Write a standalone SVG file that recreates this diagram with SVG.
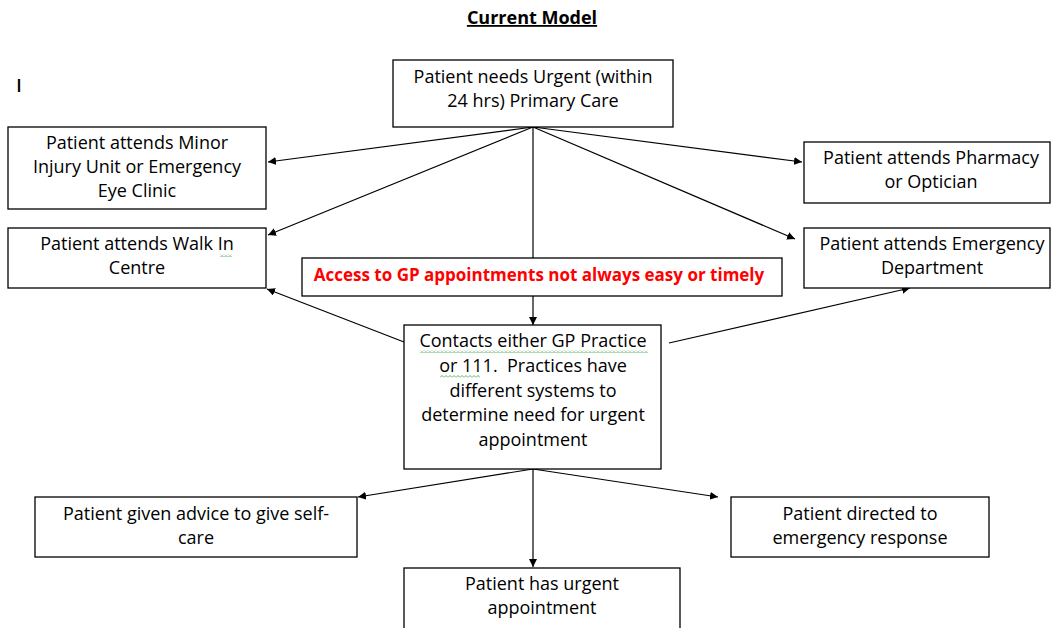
<svg xmlns="http://www.w3.org/2000/svg" width="1051" height="628" viewBox="0 0 1051 628">
<style>
text{font-family:"Open Sans",Lato,sans-serif;font-size:18px;fill:#000;text-anchor:middle}
.box{fill:#fff;stroke:#000;stroke-width:1.3}
.c line{stroke:#000;stroke-width:1.2}
.red{fill:#ff0000;font-weight:bold;font-size:17px}
</style>
<defs>
<marker id="a" viewBox="0 0 10 10" refX="10" refY="5" markerWidth="8" markerHeight="8" orient="auto" markerUnits="userSpaceOnUse"><path d="M0,0L10,5L0,10z" fill="#000"/></marker>
<pattern id="zz" x="0" y="0" width="4" height="3" patternUnits="userSpaceOnUse"><path d="M0,2.5L2,0.5L4,2.5" fill="none" stroke="#4caf50" stroke-width="0.9"/></pattern>
</defs>
<rect width="1051" height="628" fill="#fff"/>
<text x="532" y="24" font-weight="bold" text-decoration="underline" font-size="17">Current Model</text>
<text x="19" y="92" font-size="22" font-weight="600">I</text>
<g class="c">
<line x1="533" y1="127" x2="268" y2="162" marker-end="url(#a)"/>
<line x1="533" y1="127" x2="268" y2="235" marker-end="url(#a)"/>
<line x1="533" y1="127" x2="533" y2="258"/>
<line x1="533" y1="127" x2="802" y2="162" marker-end="url(#a)"/>
<line x1="533" y1="127" x2="795" y2="239" marker-end="url(#a)"/>
<line x1="533" y1="296" x2="533" y2="325" marker-end="url(#a)"/>
<line x1="404" y1="342" x2="267" y2="289" marker-end="url(#a)"/>
<line x1="669" y1="343" x2="910" y2="288" marker-end="url(#a)"/>
<line x1="533" y1="469" x2="358" y2="497" marker-end="url(#a)"/>
<line x1="533" y1="469" x2="533" y2="567" marker-end="url(#a)"/>
<line x1="533" y1="469" x2="718" y2="497" marker-end="url(#a)"/>
</g>
<g id="top"><rect class="box" x="393" y="60" width="280" height="67"/><text x="533" y="83">Patient needs Urgent (within</text><text x="533" y="107">24 hrs) Primary Care</text></g>
<g id="minor"><rect class="box" x="8" y="127" width="258" height="82"/><text x="137" y="149">Patient attends Minor</text><text x="137" y="173">Injury Unit or Emergency</text><text x="137" y="197">Eye Clinic</text></g>
<g id="walkin"><rect class="box" x="8" y="228" width="258" height="60"/><text x="137" y="250">Patient attends Walk In</text><text x="137" y="274">Centre</text><rect x="220" y="254" width="12" height="3" fill="url(#zz)"/></g>
<g id="access"><rect class="box" x="302" y="258" width="480" height="38"/><text class="red" x="539" y="281">Access to GP appointments not always easy or timely</text></g>
<g id="contacts"><rect class="box" x="404" y="325" width="257" height="144"/><text x="533" y="347">Contacts either GP Practice</text><text x="533" y="372" xml:space="preserve">or 111.  Practices have</text><text x="533" y="397">different systems to</text><text x="533" y="421">determine need for urgent</text><text x="533" y="446">appointment</text><rect x="420" y="350" width="228" height="3" fill="url(#zz)"/><rect x="440" y="375" width="40" height="3" fill="url(#zz)"/></g>
<g id="pharmacy"><rect class="box" x="804" y="142" width="246" height="61"/><text x="931" y="164">Patient attends Pharmacy</text><text x="931" y="188">or Optician</text></g>
<g id="ed"><rect class="box" x="804" y="228" width="246" height="60"/><text x="932" y="250">Patient attends Emergency</text><text x="932" y="274">Department</text></g>
<g id="selfcare"><rect class="box" x="35" y="497" width="322" height="60"/><text x="196" y="520">Patient given advice to give self-</text><text x="196" y="544">care</text></g>
<g id="emergresp"><rect class="box" x="731" y="497" width="258" height="60"/><text x="860" y="520">Patient directed to</text><text x="860" y="544">emergency response</text></g>
<g id="urgent"><rect class="box" x="404" y="568" width="276" height="70"/><text x="542" y="590">Patient has urgent</text><text x="542" y="614">appointment</text></g>
</svg>
